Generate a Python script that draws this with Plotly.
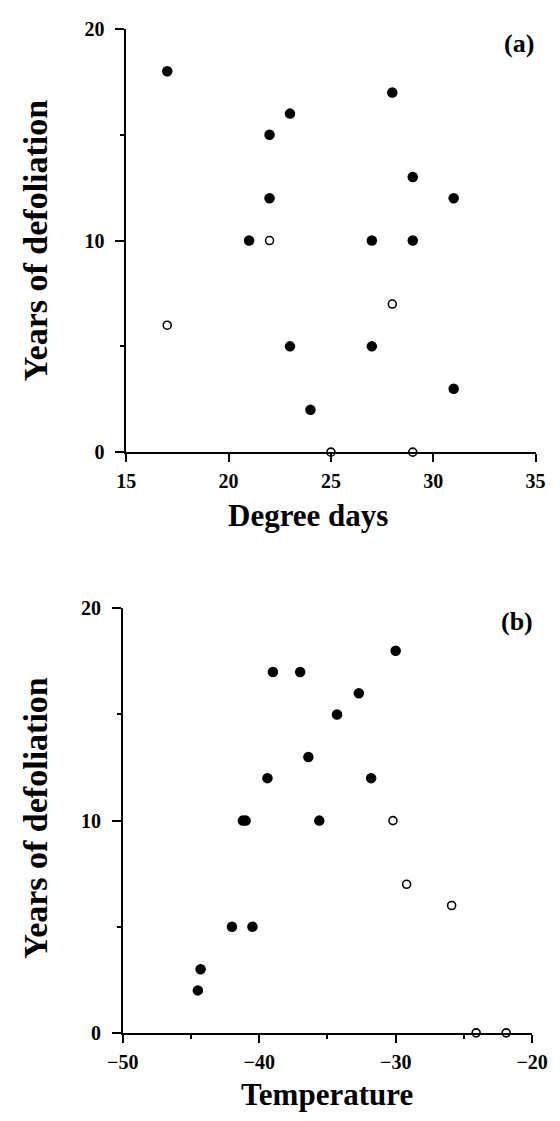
import plotly.graph_objects as go

# Panel (a): years of defoliation against degree days
deg_days_filled = [17, 28, 23, 22, 29, 22, 31, 21, 27, 29, 23, 27, 24, 31]
years_a_filled = [18, 17, 16, 15, 13, 12, 12, 10, 10, 10, 5, 5, 2, 3]
deg_days_open = [22, 17, 28, 25, 29]
years_a_open = [10, 6, 7, 0, 0]

# Panel (b): years of defoliation against minimum temperature
temp_filled = [-30.0, -39.0, -37.0, -32.7, -34.3, -36.4, -39.4, -31.8,
               -41.2, -41.0, -35.6, -42.0, -40.5, -44.3, -44.5]
years_b_filled = [18, 17, 17, 16, 15, 13, 12, 12, 10, 10, 10, 5, 5, 3, 2]
temp_open = [-30.2, -29.2, -25.9, -24.1, -21.9]
years_b_open = [10, 7, 6, 0, 0]

y_title = "Years of defoliation"
x_title_a = "Degree days"
x_title_b = "Temperature"

W, H = 560, 1121
SERIF = "Liberation Serif"
INK = "black"


def fx(px):
    return px / W


def fy(py):
    return 1 - py / H


filled = dict(color=INK, size=10.5, line=dict(width=0))
hollow = dict(color="white", size=8, line=dict(color=INK, width=1.6))

fig = go.Figure()
fig.add_trace(go.Scatter(x=deg_days_filled, y=years_a_filled, mode="markers",
                         marker=filled, xaxis="x", yaxis="y", cliponaxis=False))
fig.add_trace(go.Scatter(x=deg_days_open, y=years_a_open, mode="markers",
                         marker=hollow, xaxis="x", yaxis="y", cliponaxis=False))
fig.add_trace(go.Scatter(x=temp_filled, y=years_b_filled, mode="markers",
                         marker=filled, xaxis="x2", yaxis="y2", cliponaxis=False))
fig.add_trace(go.Scatter(x=temp_open, y=years_b_open, mode="markers",
                         marker=hollow, xaxis="x2", yaxis="y2", cliponaxis=False))

tick_font = dict(family=SERIF, size=20, color=INK, weight="bold")
common_axis = dict(showline=True, linecolor=INK, linewidth=1.8, showgrid=False,
                   zeroline=False, ticks="outside", tickcolor=INK, tickwidth=1.8,
                   tickfont=tick_font, fixedrange=True, ticklabeloverflow="allow")

yaxis_style = dict(common_axis, range=[0, 20], tickvals=[0, 10, 20], ticklen=9,
                   ticklabelstandoff=7,
                   minor=dict(tickvals=[5, 15], ticks="outside", ticklen=4,
                              tickwidth=1.5, tickcolor=INK))

fig.update_layout(
    width=W, height=H,
    margin=dict(l=0, r=0, t=0, b=0),
    paper_bgcolor="white", plot_bgcolor="white",
    showlegend=False,
    xaxis=dict(common_axis, range=[15, 35], dtick=5, tick0=15, ticklen=8,
               ticklabelstandoff=2,
               domain=[fx(117), fx(551)], anchor="y"),
    yaxis=dict(yaxis_style, domain=[fy(450), fy(18.3)], anchor="x"),
    xaxis2=dict(common_axis, range=[-50, -20], dtick=10, tick0=-50, ticklen=8,
                ticklabelstandoff=2,
                minor=dict(dtick=5, tick0=-50, ticks="outside", ticklen=4,
                           tickwidth=1.5, tickcolor=INK),
                domain=[fx(113.3), fx(547.4)], anchor="y2"),
    yaxis2=dict(yaxis_style, domain=[fy(1042.3), fy(609.3)], anchor="x2"),
)

title_font = dict(family=SERIF, size=31, color=INK, weight="bold")
label_font = dict(family=SERIF, size=26, color=INK, weight="bold")

annotations = [
    dict(text=y_title, x=fx(21), y=fy(234), textangle=-90, font=dict(title_font, size=34)),
    dict(text=y_title, x=fx(21), y=fy(823), textangle=-90, font=dict(title_font, size=34)),
    dict(text=x_title_a, x=fx(310), y=fy(515), font=title_font),
    dict(text=x_title_b, x=fx(330), y=fy(1105), font=title_font),
    dict(text="(a)", x=fx(534), y=fy(33), font=label_font),
    dict(text="(b)", x=fx(531), y=fy(623), font=label_font),
]
for a in annotations:
    fig.add_annotation(xref="paper", yref="paper", showarrow=False,
                       xanchor="center", yanchor="middle", **a)

fig.write_html("out.html")
